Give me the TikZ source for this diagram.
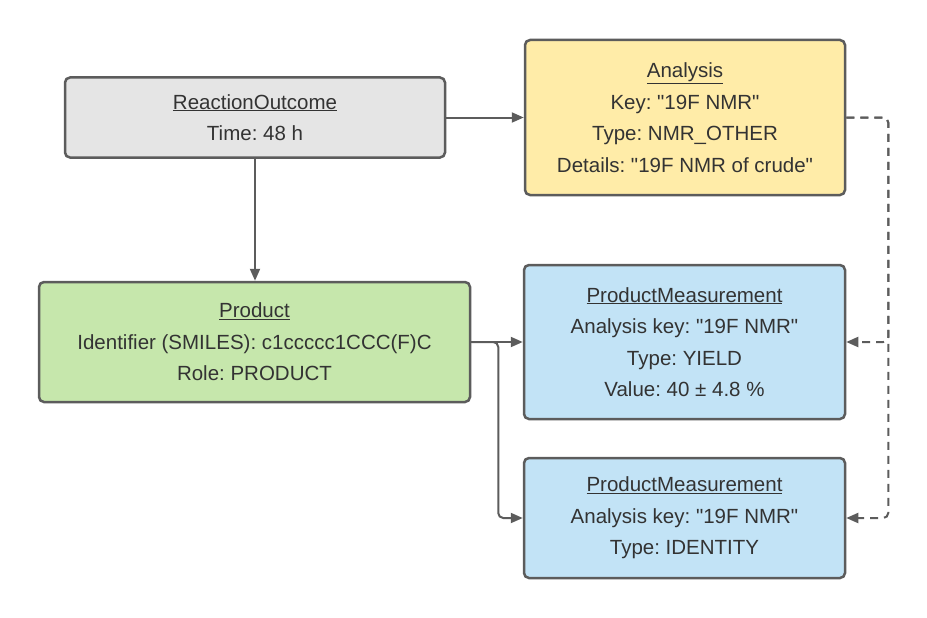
\documentclass[tikz,border=0pt]{standalone}
\usepackage{fontspec}
\setmainfont{Liberation Sans}[Ligatures=TeXOff]
\usetikzlibrary{arrows.meta}
\frenchspacing
\definecolor{edgec}{HTML}{5C5C5C}
\definecolor{txtc}{HTML}{333333}
\definecolor{grayf}{HTML}{E5E5E5}
\definecolor{yellowf}{HTML}{FFECA8}
\definecolor{greenf}{HTML}{C6E7AC}
\definecolor{bluef}{HTML}{C2E3F6}
\tikzset{
  box/.style={draw=edgec, line width=2.5pt, rounded corners=5pt, inner sep=0pt,
    align=center, text=txtc, font=\fontsize{20.5}{31.5}\selectfont},
  arr/.style={draw=edgec, line width=2pt, -{Triangle[length=12pt,width=10pt]}},
  darr/.style={arr, dash pattern=on 8pt off 6pt, rounded corners=5pt},
}
\begin{document}
\begin{tikzpicture}[x=1pt,y=-1pt]
\useasboundingbox (0,0) rectangle (927,618);
\node[box, fill=grayf, minimum width=380pt, minimum height=80pt] (ro) at (255,117.5)
  {\underline{ReactionOutcome}\\Time: 48 h};
\node[box, fill=greenf, minimum width=431pt, minimum height=120pt] (prod) at (254.5,342)
  {\underline{Product}\\Identifier (SMILES): c1ccccc1CCC(F)C\\Role: PRODUCT};
\node[box, fill=yellowf, minimum width=320pt, minimum height=155pt] (an) at (685,117.5)
  {\underline{Analysis}\\Key: "19F NMR"\\Type: NMR\_OTHER\\Details: "19F NMR of crude"};
\node[box, fill=bluef, minimum width=321pt, minimum height=154pt] (pm1) at (684.5,342)
  {\underline{ProductMeasurement}\\Analysis key: "19F NMR"\\Type: YIELD\\Value: 40 ± 4.8 \%};
\node[box, fill=bluef, minimum width=321pt, minimum height=120pt] (pm2) at (684.5,518)
  {\underline{ProductMeasurement}\\Analysis key: "19F NMR"\\Type: IDENTITY};
\coordinate (split) at ([xshift=27pt]prod.east);
\coordinate (dsplit) at ([xshift=42pt]an.east);
\draw[arr] (ro.south) -- (ro.south |- prod.north);
\draw[arr] (ro.east |- an.west) -- (an.west);
\draw[arr] (prod.east) -- (pm1.west);
\draw[arr, rounded corners=5pt] (prod.east) -- (split) |- (pm2.west);
\draw[darr] (an.east) -- (dsplit) |- (pm1.east);
\draw[darr] (an.east) -- (dsplit) |- (pm2.east);
\end{tikzpicture}
\end{document}
